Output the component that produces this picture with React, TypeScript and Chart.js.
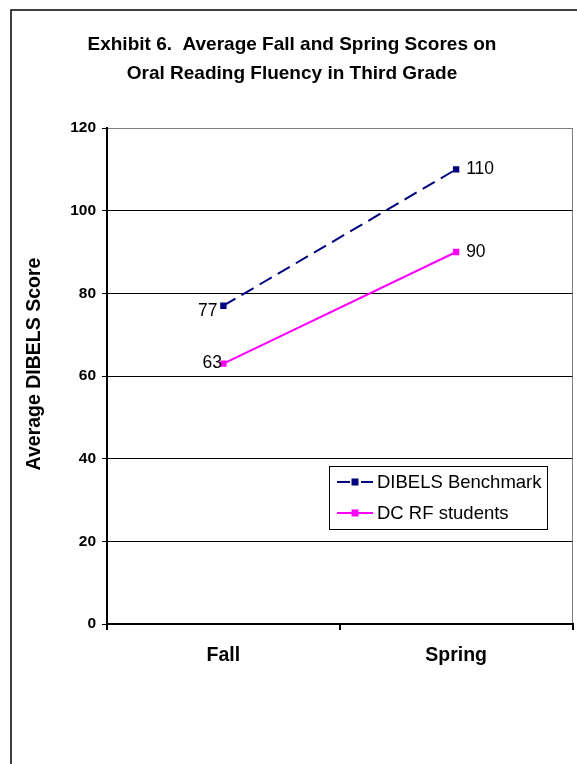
import React, { useEffect, useRef } from "react";
import { Chart, registerables } from "chart.js";

Chart.register(...registerables);

// Chart content
const titleLines = [
  "Exhibit 6.  Average Fall and Spring Scores on",
  "Oral Reading Fluency in Third Grade",
];
const seasons = ["Fall", "Spring"];
const benchmarkLabel = "DIBELS Benchmark";
const benchmarkScores = [77, 110];
const studentLabel = "DC RF students";
const studentScores = [63, 90];
const yAxisTitle = "Average DIBELS Score";
const yMin = 0;
const yMax = 120;
const yStep = 20;

const FONT = "'Liberation Sans', Arial, Helvetica, sans-serif";

// Thin frame on the left and top edges of the figure, plus the grey right edge of the plot area
const framePlugin = {
  id: "frame",
  beforeDraw(chart: any) {
    const { ctx, chartArea } = chart;
    ctx.save();
    ctx.strokeStyle = "#000";
    ctx.lineWidth = 1.5;
    ctx.beginPath();
    ctx.moveTo(11, chart.height);
    ctx.lineTo(11, 10);
    ctx.lineTo(chart.width, 10);
    ctx.stroke();
    ctx.strokeStyle = "#808080";
    ctx.lineWidth = 1;
    ctx.beginPath();
    ctx.moveTo(Math.round(chartArea.right) - 0.5, chartArea.top);
    ctx.lineTo(Math.round(chartArea.right) - 0.5, chartArea.bottom);
    ctx.stroke();
    ctx.restore();
  },
};

// Rotated value-axis title, set a little above the middle of the plot
const yTitlePlugin = {
  id: "yTitle",
  afterDraw(chart: any, _args: any, opts: any) {
    const { ctx, chartArea } = chart;
    ctx.save();
    ctx.translate(opts.x, (chartArea.top + chartArea.bottom) / 2 + opts.dy);
    ctx.rotate(-Math.PI / 2);
    ctx.font = `bold 19.5px ${FONT}`;
    ctx.fillStyle = "#000";
    ctx.textAlign = "center";
    ctx.textBaseline = "middle";
    ctx.fillText(opts.text, 0, 0);
    ctx.restore();
  },
};

// Value labels beside each point
const valueLabelPlugin = {
  id: "valueLabels",
  afterDatasetsDraw(chart: any, _args: any, opts: any) {
    const { ctx } = chart;
    ctx.save();
    ctx.font = `17.5px ${FONT}`;
    ctx.fillStyle = "#000";
    ctx.textBaseline = "middle";
    chart.data.datasets.forEach((ds: any, di: number) => {
      const meta = chart.getDatasetMeta(di);
      const shift = (opts.shifts && opts.shifts[di]) || { left: -6, dy: 0 };
      meta.data.forEach((pt: any, i: number) => {
        const v = ds.data[i];
        if (i === 0) {
          ctx.textAlign = "right";
          ctx.fillText(String(v), pt.x + shift.left, pt.y + shift.dy);
        } else {
          ctx.textAlign = "left";
          ctx.fillText(String(v), pt.x + 10, pt.y);
        }
      });
    });
    ctx.restore();
  },
};

// Boxed legend inside the plot area, line sample with marker
const boxLegendPlugin = {
  id: "boxLegend",
  afterDraw(chart: any, _args: any, opts: any) {
    const { ctx } = chart;
    const { x, y, w, h, rowGap } = opts;
    ctx.save();
    ctx.fillStyle = "#fff";
    ctx.fillRect(x, y, w, h);
    ctx.strokeStyle = "#000";
    ctx.lineWidth = 1;
    ctx.strokeRect(x + 0.5, y + 0.5, w, h);
    ctx.font = `18.5px ${FONT}`;
    ctx.textBaseline = "middle";
    ctx.textAlign = "left";
    chart.data.datasets.forEach((ds: any, i: number) => {
      const cy = y + 16 + i * rowGap;
      const x0 = x + 8;
      const x1 = x + 44;
      ctx.strokeStyle = ds.borderColor;
      ctx.lineWidth = 2;
      ctx.setLineDash(ds.borderDash ? [13, 11] : []);
      ctx.beginPath();
      ctx.moveTo(x0, cy);
      ctx.lineTo(x1, cy);
      ctx.stroke();
      ctx.setLineDash([]);
      ctx.fillStyle = ds.borderColor;
      ctx.fillRect((x0 + x1) / 2 - 3.5, cy - 3.5, 7, 7);
      ctx.fillStyle = "#000";
      ctx.fillText(ds.label, x + 48, cy + 1);
    });
    ctx.restore();
  },
};

export default function App() {
  const canvasRef = useRef<HTMLCanvasElement | null>(null);

  useEffect(() => {
    if (!canvasRef.current) return;
    const chart = new Chart(canvasRef.current, {
      type: "line",
      data: {
        labels: seasons,
        datasets: [
          {
            label: benchmarkLabel,
            data: benchmarkScores,
            borderColor: "#000080",
            backgroundColor: "#000080",
            borderWidth: 2,
            borderDash: [14, 7],
            pointStyle: "rect",
            pointRadius: 4.5,
            pointBorderWidth: 0,
            tension: 0,
          },
          {
            label: studentLabel,
            data: studentScores,
            borderColor: "#FF00FF",
            backgroundColor: "#FF00FF",
            borderWidth: 2,
            pointStyle: "rect",
            pointRadius: 4.5,
            pointBorderWidth: 0,
            tension: 0,
          },
        ],
      },
      options: {
        responsive: false,
        maintainAspectRatio: false,
        devicePixelRatio: 1,
        animation: false,
        layout: { padding: { left: 11, right: 4, top: 0, bottom: 0 } },
        plugins: {
          legend: { display: false },
          tooltip: { enabled: false },
          title: {
            display: true,
            text: titleLines,
            color: "#000",
            font: { family: FONT, size: 19, weight: "bold", lineHeight: 29 / 19 },
            padding: { top: 30.5, bottom: 39.5 },
          },
          valueLabels: {
            shifts: [
              { left: -6, dy: 5 },
              { left: -1.5, dy: 0 },
            ],
          },
          yTitle: { text: yAxisTitle, x: 35, dy: -12 },
          boxLegend: { x: 329, y: 466, w: 218, h: 63, rowGap: 31 },
        } as any,
        scales: {
          x: {
            type: "category",
            offset: true,
            grid: {
              offset: true,
              drawOnChartArea: false,
              drawTicks: true,
              tickLength: 6,
              color: "#000",
              lineWidth: 2,
            },
            border: { display: true, color: "#000", width: 2 },
            ticks: {
              color: "#000",
              font: { family: FONT, size: 19.5, weight: "bold" },
              padding: 13.5,
            },
            afterFit(scale: any) {
              scale.height = 140;
            },
          },
          y: {
            min: yMin,
            max: yMax,
            ticks: {
              stepSize: yStep,
              color: "#000",
              font: { family: FONT, size: 15.5, weight: "bold" },
              padding: 6,
            },
            grid: {
              color: (c: any) => (c.tick && c.tick.value === yMax ? "#808080" : "#000"),
              tickColor: "#000",
              lineWidth: 1,
              tickLength: 5,
              drawTicks: true,
            },
            border: { display: true, color: "#000", width: 2 },
            afterFit(scale: any) {
              scale.width = 96;
            },
          },
        },
      },
      plugins: [framePlugin, yTitlePlugin, valueLabelPlugin, boxLegendPlugin],
    });
    return () => chart.destroy();
  }, []);

  return (
    <div style={{ position: "fixed", left: 0, top: 0, width: 577, height: 764, background: "#fff" }}>
      <canvas ref={canvasRef} width={577} height={764} style={{ display: "block" }} />
    </div>
  );
}
